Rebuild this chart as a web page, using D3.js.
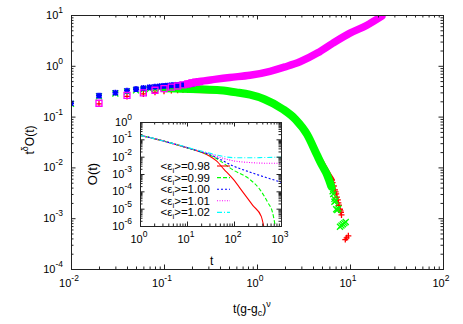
<!DOCTYPE html>
<html>
<head>
<meta charset="utf-8">
<script src="https://cdn.jsdelivr.net/npm/d3@7"></script>
<style>
body { margin: 0; background: #fff; }
svg { display: block; font-family: "Liberation Sans", Arial, sans-serif; }
</style>
</head>
<body>
<svg id="chart" width="463" height="324"></svg>
<script>
/* global d3 */

// main plot: t(g-gc)^nu vs t^delta O(t)
const redEarly = [[0.02,0.178],[0.04,0.25],[0.06,0.28],[0.08,0.30],[0.10,0.315],[0.12,0.325],[0.14,0.33],[0.16,0.335],[0.18,0.335],[0.20,0.335]];
const redBand = [[0.2,0.335],[0.4,0.33],[0.6,0.30],[0.84,0.27],[1.2,0.22],[1.9,0.14],[2.6,0.088],[3.45,0.045],[4.42,0.0175],[5.1,0.0112],[5.8,0.0074],[6.35,0.0057]];
const redTail = [[6.35,0.0057],[6.5,0.005],[6.7,0.0043],[6.9,0.0036],[7.0,0.0033],[7.1,0.003],[7.24,0.0026],[7.4,0.0023],[7.5,0.002],[7.6,0.0018],[7.8,0.0015],[7.9,0.0014],[8.0,0.0013],[8.1,0.00116],[8.9,0.00038],[9.2,0.00041],[9.6,0.00045]];

const greenEarly = [[0.01,0.178],[0.02,0.25],[0.03,0.285],[0.04,0.31],[0.05,0.328],[0.06,0.34],[0.07,0.348],[0.08,0.353],[0.09,0.357],[0.10,0.36]];
const greenBand = [[0.1,0.36],[0.15,0.355],[0.244,0.345],[0.4,0.33],[0.6,0.30],[0.84,0.27],[1.2,0.22],[1.9,0.14],[2.6,0.088],[3.45,0.045],[4.42,0.0175],[5.0,0.011],[5.66,0.0072],[6.3,0.0042]];
const greenTail = [[6.5,0.0034],[6.6,0.003],[6.8,0.0024],[6.8,0.0021],[7.0,0.0022],[7.1,0.0015],[7.3,0.00145],[7.5,0.00155],[7.8,0.00068],[8.1,0.00072],[8.4,0.00076],[8.7,0.0008],[9.0,0.00084]];

const blueEarly = [[0.01,0.183],[0.02,0.258],[0.03,0.295],[0.04,0.323],[0.05,0.348],[0.06,0.365],[0.07,0.377],[0.08,0.387],[0.09,0.395],[0.10,0.402],[0.11,0.407],[0.12,0.412],[0.13,0.416],[0.14,0.42],[0.15,0.423],[0.16,0.426],[0.17,0.429],[0.18,0.432],[0.19,0.434],[0.20,0.437]];

const magentaEarly = [[0.02,0.183],[0.04,0.262],[0.06,0.292],[0.08,0.33],[0.10,0.355],[0.12,0.38],[0.14,0.40],[0.16,0.42],[0.18,0.44],[0.20,0.46],[0.22,0.475],[0.24,0.49]];
const magentaBand = [[0.18,0.44],[0.24,0.49],[0.35,0.54],[0.51,0.59],[0.84,0.65],[1.38,0.78],[2.0,0.95],[2.9,1.2],[4.5,1.8],[6.56,2.8],[10,4.4],[15.2,6.3],[22,9.5]];

// inset: t vs O(t)
const insetRed = [[1,0.17],[2,0.11],[4,0.067],[10,0.033],[20,0.018],[30,0.011],[43,0.0055],[60,0.002],[96,5e-4],[156,8.7e-5],[253,1.5e-5],[380,3.6e-6],[428,1e-6]];
const insetGreen = [[1,0.17],[2,0.11],[4,0.067],[10,0.033],[20,0.0185],[30,0.0125],[43,0.0075],[96,1.7e-3],[215,5e-4],[350,1.35e-4],[522,2.3e-5],[661,6e-6],[754,1e-6]];
const insetBlue = [[1,0.17],[2,0.11],[4,0.067],[10,0.033],[20,0.019],[30,0.0135],[43,0.0088],[96,0.0029],[215,1.3e-3],[480,6.3e-4],[1000,3.4e-4]];
const insetMagenta = [[1,0.17],[2,0.11],[4,0.067],[10,0.034],[20,0.02],[30,0.0145],[43,0.0105],[96,0.0058],[215,0.0046],[480,0.0042],[1000,0.0042]];
const insetCyan = [[1,0.17],[2,0.11],[4,0.068],[10,0.035],[20,0.021],[30,0.016],[43,0.0125],[96,0.0088],[215,0.0086],[480,0.009],[1000,0.0093]];
const legendLabels = ['0.98', '0.99', '1.00', '1.01', '1.02'];

// tick labels
const mainXExp = [-2, -1, 0, 1, 2];
const mainYExp = [-4, -3, -2, -1, 0, 1];
const insetXExp = [0, 1, 2, 3];
const insetYExp = [-6, -5, -4, -3, -2, -1, 0];

const svg = d3.select('#chart');

const x = d3.scaleLog().domain([1e-2, 1e2]).range([71, 443]);
const y = d3.scaleLog().domain([1e-4, 1e1]).range([269, 15]);
const xi = d3.scaleLog().domain([1, 1e3]).range([140, 281]);
const yi = d3.scaleLog().domain([1e-6, 1]).range([226, 122]);

const minorsOf = function(exps) {
    let out = [];
    for (let k = exps[0]; k < exps[exps.length - 1]; k++) {
        for (let m = 2; m <= 9; m++) out.push(m * Math.pow(10, k));
    }
    return out;
};

const pow10 = function(g, px, py, exp, anchor) {
    let t = g.append('text')
        .attr('x', px).attr('y', py)
        .attr('text-anchor', anchor)
        .style('font-size', '11px');
    t.append('tspan').text('10');
    t.append('tspan').attr('dy', -6).style('font-size', '8.5px').text(exp);
};

const frame = function(g, xs, ys, xExp, yExp) {
    const [x0, x1] = xs.range();
    const [y0, y1] = ys.range();
    const xMaj = xExp.map(e => Math.pow(10, e));
    const yMaj = yExp.map(e => Math.pow(10, e));
    const xMin = minorsOf(xExp);
    const yMin = minorsOf(yExp);
    const ticks = [
        [d3.axisBottom(xs), `translate(0,${y0})`, xMaj, xMin],
        [d3.axisTop(xs), `translate(0,${y1})`, xMaj, xMin],
        [d3.axisLeft(ys), `translate(${x0},0)`, yMaj, yMin],
        [d3.axisRight(ys), `translate(${x1},0)`, yMaj, yMin]
    ];
    ticks.forEach(([axis, tr, maj, min]) => {
        [[maj, -4.5], [min, -2.5]].forEach(([vals, size]) => {
            g.append('g').attr('transform', tr)
                .call(axis.tickValues(vals).tickSize(size).tickFormat(''))
                .call(a => a.select('.domain').remove())
                .selectAll('line').attr('stroke', '#222');
        });
    });
    g.append('rect')
        .attr('x', x0 + 0.5).attr('y', y1 + 0.5)
        .attr('width', x1 - x0).attr('height', y0 - y1)
        .attr('fill', 'none').attr('stroke', '#222');
};

// ---- main plot
const main = svg.append('g');
svg.append('clipPath').attr('id', 'clip-main').append('rect')
    .attr('x', 71).attr('y', 15).attr('width', 372).attr('height', 254);

const pts = main.append('g').attr('clip-path', 'url(#clip-main)');
const band = d3.line().x(d => x(d[0])).y(d => y(d[1])).curve(d3.curveMonotoneX);

const markers = {
    plus: 'M-3,0H3M0,-3V3',
    cross: 'M-3,-3L3,3M-3,3L3,-3',
    star: 'M-3,0H3M0,-3V3M-2.5,-2.5L2.5,2.5M-2.5,2.5L2.5,-2.5',
    square: 'M-3,-3H3V3H-3Z'
};

const series = [
    {color: '#ff0000', mark: 'plus', width: 6, early: redEarly, band: redBand, tail: redTail},
    {color: '#00ff00', mark: 'cross', width: 8, early: greenEarly, band: greenBand, tail: greenTail},
    {color: '#0000ff', mark: 'star', width: 0, early: blueEarly, band: null, tail: []},
    {color: '#ff00ff', mark: 'square', width: 7.5, early: magentaEarly, band: magentaBand, tail: []}
];

series.forEach(s => {
    if (s.band) {
        pts.append('path')
            .attr('d', band(s.band))
            .attr('fill', 'none')
            .attr('stroke', s.color)
            .attr('stroke-width', s.width)
            .attr('stroke-linecap', 'round');
    }
    pts.selectAll(null)
        .data(s.early.concat(s.tail))
        .join('path')
        .attr('transform', d => `translate(${x(d[0])},${y(d[1])})`)
        .attr('d', markers[s.mark])
        .attr('fill', 'none')
        .attr('stroke', s.color)
        .attr('stroke-width', s.mark === 'star' ? 1.7 : 1.3);
});

frame(main, x, y, mainXExp, mainYExp);
mainXExp.forEach(e => pow10(main, x(Math.pow(10, e)) - 2, 287, e, 'middle'));
mainYExp.forEach(e => pow10(main, 63, y(Math.pow(10, e)) + 4, e, 'end'));

let xl = main.append('text').attr('x', 233).attr('y', 313).style('font-size', '12px');
xl.append('tspan').text('t(g-g');
xl.append('tspan').attr('dy', 3).style('font-size', '9px').text('c');
xl.append('tspan').attr('dy', -3).text(')');
xl.append('tspan').attr('dy', -6).style('font-size', '9px').text('\u03bd');

let yl = main.append('text')
    .attr('transform', 'translate(34,140) rotate(-90)')
    .attr('text-anchor', 'middle')
    .style('font-size', '12px');
yl.append('tspan').text('t');
yl.append('tspan').attr('dy', -6).style('font-size', '9px').text('\u03b4');
yl.append('tspan').attr('dy', 6).text('O(t)');

// ---- inset
const inset = svg.append('g');
inset.append('rect').attr('x', 140).attr('y', 122).attr('width', 141).attr('height', 104).attr('fill', '#fff');
svg.append('clipPath').attr('id', 'clip-inset').append('rect')
    .attr('x', 140).attr('y', 122).attr('width', 141).attr('height', 104);

const curve = d3.line().x(d => xi(d[0])).y(d => yi(d[1])).curve(d3.curveMonotoneX);
const insetSeries = [
    {data: insetRed, color: '#ff0000', dash: null},
    {data: insetGreen, color: '#00ff00', dash: '4,2'},
    {data: insetBlue, color: '#0000ff', dash: '2,2'},
    {data: insetMagenta, color: '#ff00ff', dash: '1,1.5'},
    {data: insetCyan, color: '#00ffff', dash: '5,2,1,2'}
];

const lines = inset.append('g').attr('clip-path', 'url(#clip-inset)');
insetSeries.forEach(s => {
    lines.append('path')
        .attr('d', curve(s.data))
        .attr('fill', 'none')
        .attr('stroke', s.color)
        .attr('stroke-width', 1.1)
        .attr('stroke-dasharray', s.dash);
});

const legend = inset.append('g');
legendLabels.forEach((lab, i) => {
    const ry = 166 + i * 11.6;
    let t = legend.append('text')
        .attr('x', 210).attr('y', ry + 4)
        .attr('text-anchor', 'end')
        .style('font-size', '11.5px');
    t.append('tspan').text('<\u03b5');
    t.append('tspan').attr('dy', 3).style('font-size', '8px').text('i');
    t.append('tspan').attr('dy', -3).text('>=' + lab);
    legend.append('line')
        .attr('x1', 217).attr('x2', 230)
        .attr('y1', ry).attr('y2', ry)
        .attr('stroke', insetSeries[i].color)
        .attr('stroke-width', 1.1)
        .attr('stroke-dasharray', insetSeries[i].dash);
});

frame(inset, xi, yi, insetXExp, insetYExp);
insetXExp.forEach(e => pow10(inset, xi(Math.pow(10, e)) - 1, 243, e, 'middle'));
insetYExp.forEach(e => pow10(inset, 132, yi(Math.pow(10, e)) + 4, e, 'end'));

inset.append('text').attr('x', 210).attr('y', 265).style('font-size', '12px').text('t');
inset.append('text')
    .attr('transform', 'translate(97,174) rotate(-90)')
    .attr('text-anchor', 'middle')
    .style('font-size', '13px')
    .text('O(t)');
</script>
</body>
</html>
